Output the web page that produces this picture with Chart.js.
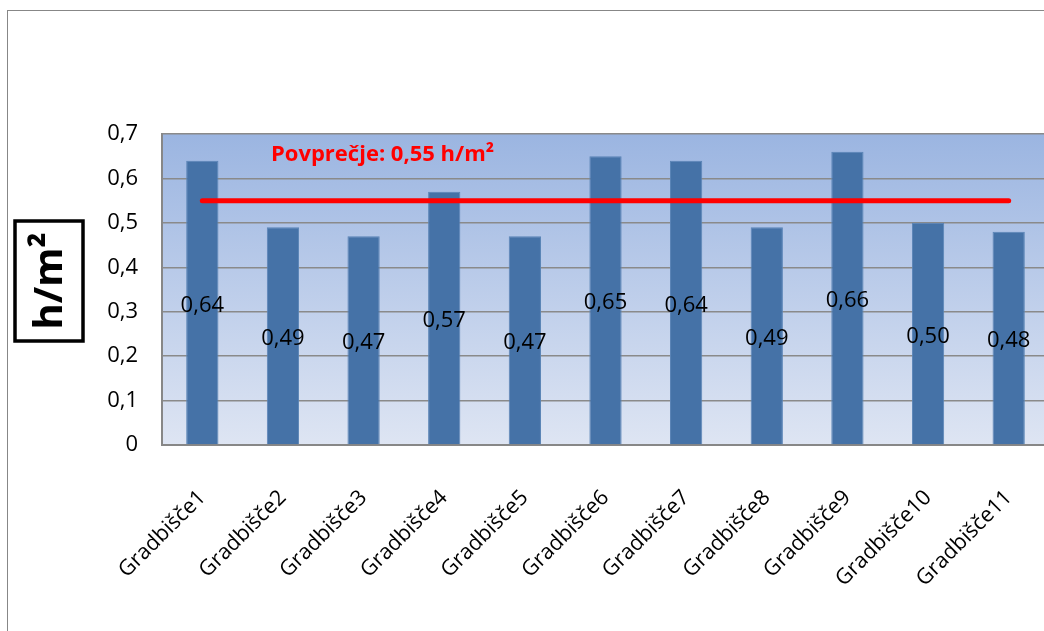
<!DOCTYPE html>
<html>
<head>
<meta charset="utf-8">
<script src="https://cdn.jsdelivr.net/npm/chart.js@4"></script>
<style>
  html, body { margin: 0; padding: 0; background: #fff; overflow: hidden; }
  #wrap { position: absolute; left: 0; top: 0; width: 1080px; height: 660px; }
</style>
</head>
<body>
<div id="wrap"><canvas id="chart" width="1080" height="660"></canvas></div>
<script>
// chart data
const categories = ['Gradbišče1', 'Gradbišče2', 'Gradbišče3', 'Gradbišče4', 'Gradbišče5', 'Gradbišče6',
                    'Gradbišče7', 'Gradbišče8', 'Gradbišče9', 'Gradbišče10', 'Gradbišče11'];
const hoursPerM2 = [0.64, 0.49, 0.47, 0.57, 0.47, 0.65, 0.64, 0.49, 0.66, 0.50, 0.48];
const averageLine = [0.55, 0.55, 0.55, 0.55, 0.55, 0.55, 0.55, 0.55, 0.55, 0.55, 0.55];
const yTickLabels = ['0', '0,1', '0,2', '0,3', '0,4', '0,5', '0,6', '0,7'];
const averageText = 'Povprečje: 0,55 h/m²';
const yTitle = 'h/m²';

const fontFamily = '"Open Sans", "DejaVu Sans", sans-serif';
const formatValue = v => v.toFixed(2).replace('.', ',');

// gradient plot background + outer frame
const backgroundPlugin = {
    id: 'plotBackground',
    beforeDraw(chart) {
        const { ctx, chartArea } = chart;
        ctx.save();
        ctx.strokeStyle = '#878787';
        ctx.lineWidth = 1;
        ctx.strokeRect(7.5, 10.5, 2000, 2000);
        const grad = ctx.createLinearGradient(0, chartArea.top, 0, chartArea.bottom);
        grad.addColorStop(0, '#9bb5e1');
        grad.addColorStop(1, '#dee5f3');
        ctx.fillStyle = grad;
        ctx.fillRect(chartArea.left, chartArea.top, chartArea.right - chartArea.left, chartArea.bottom - chartArea.top);
        ctx.restore();
    }
};

// value labels in the middle of the bars, the average caption and the boxed axis title
const labelsPlugin = {
    id: 'extraLabels',
    afterDatasetsDraw(chart) {
        const { ctx, chartArea } = chart;
        const meta = chart.getDatasetMeta(1); // the bar dataset
        ctx.save();
        ctx.fillStyle = '#000';
        ctx.font = '22px ' + fontFamily;
        ctx.textAlign = 'center';
        ctx.textBaseline = 'middle';
        meta.data.forEach((bar, i) => {
            ctx.fillText(formatValue(hoursPerM2[i]), bar.x, (bar.y + bar.base) / 2 + 3);
        });

        // average caption
        ctx.fillStyle = '#ff0000';
        ctx.font = 'bold 22px ' + fontFamily;
        ctx.textAlign = 'left';
        ctx.fillText(averageText, chartArea.left + 109, chartArea.top + 21);

        // boxed y-axis title
        ctx.translate(49, 281);
        ctx.rotate(-Math.PI / 2);
        ctx.strokeStyle = '#000';
        ctx.lineWidth = 3.5;
        ctx.strokeRect(-60, -34, 120, 68);
        ctx.fillStyle = '#000';
        ctx.font = 'bold 40px ' + fontFamily;
        ctx.textAlign = 'center';
        ctx.fillText(yTitle, 0, 2);
        ctx.restore();
    }
};

const ctx = document.getElementById('chart').getContext('2d');
new Chart(ctx, {
    type: 'bar',
    data: {
        labels: categories,
        datasets: [
            {
                type: 'line',
                data: averageLine,
                borderColor: '#ff0000',
                borderWidth: 5,
                borderCapStyle: 'round',
                pointRadius: 0,
                order: 0
            },
            {
                type: 'bar',
                data: hoursPerM2,
                backgroundColor: '#4572a7',
                borderColor: '#5a84b6',
                borderWidth: 1,
                barPercentage: 0.4,
                categoryPercentage: 1.0,
                order: 1
            }
        ]
    },
    options: {
        responsive: false,
        devicePixelRatio: 1,
        animation: false,
        layout: {
            padding: { left: 0, top: 134, right: 31, bottom: 65 }
        },
        plugins: {
            legend: { display: false },
            tooltip: { enabled: false }
        },
        scales: {
            x: {
                grid: { display: false, drawTicks: false },
                border: { display: true, color: '#878787', width: 2 },
                ticks: {
                    color: '#000',
                    font: { family: fontFamily, size: 21.5 },
                    maxRotation: 45,
                    minRotation: 45,
                    padding: 40,
                    autoSkip: false
                },
                afterFit(scale) { scale.height = 150; }
            },
            y: {
                min: 0,
                max: 0.7,
                grid: { color: '#8a8a8a', lineWidth: 1.5, drawTicks: false },
                border: { display: true, color: '#878787', width: 2 },
                ticks: {
                    stepSize: 0.1,
                    color: '#000',
                    font: { family: fontFamily, size: 22 },
                    padding: 24,
                    callback: (value, index) => yTickLabels[index]
                },
                afterFit(scale) { scale.width = 162; }
            }
        }
    },
    plugins: [backgroundPlugin, labelsPlugin]
});
</script>
</body>
</html>
